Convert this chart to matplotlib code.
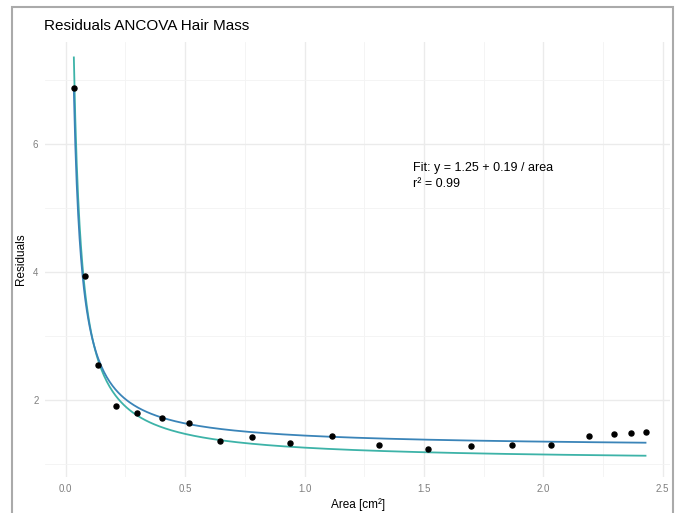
import matplotlib.pyplot as plt
import numpy as np
from matplotlib.patches import Rectangle
from matplotlib.ticker import MultipleLocator

plt.rcParams['font.family'] = ['Liberation Sans', 'DejaVu Sans']

# residuals
area = [0.035, 0.081, 0.135, 0.209, 0.300, 0.404, 0.518, 0.644, 0.781, 0.938,
        1.116, 1.314, 1.516, 1.697, 1.869, 2.033, 2.191, 2.298, 2.369, 2.428]
residuals = [6.88, 3.94, 2.55, 1.90, 1.80, 1.71, 1.63, 1.36, 1.42, 1.32,
             1.43, 1.29, 1.23, 1.28, 1.30, 1.30, 1.43, 1.47, 1.48, 1.50]

# y = a + b / area
fit_coef = [1.25, 0.19]
alt_coef = [1.036, 0.215]

fig = plt.figure(figsize=(6.78, 5.13), dpi=100)
ax = fig.add_axes([0.067, 0.070, 0.921, 0.848])

xs = np.linspace(0.034, max(area), 400)
ax.plot(xs, alt_coef[0] + alt_coef[1] / xs, color='#3db3a8', lw=1.3, zorder=3)
ax.plot(xs, fit_coef[0] + fit_coef[1] / xs, color='#3a84b8', lw=1.3, zorder=3)
ax.scatter(area, residuals, s=13, color='black', zorder=4)

ax.text(1.455, 5.63, 'Fit: y = 1.25 + 0.19 / area', fontsize=9, va='center')
ax.text(1.455, 5.38, 'r² = 0.99', fontsize=9, va='center')

ax.set_xlim(-0.085, 2.53)
ax.set_ylim(0.79, 7.6)
ax.xaxis.set_minor_locator(MultipleLocator(0.25))
ax.yaxis.set_major_locator(MultipleLocator(2))
ax.yaxis.set_minor_locator(MultipleLocator(1))
ax.set_xticks([0, 0.5, 1.0, 1.5, 2.0, 2.5])
ax.set_xticklabels(['0.0', '0.5', '1.0', '1.5', '2.0', '2.5'])
ax.grid(which='major', color='#ebebeb', lw=1.0, zorder=0)
ax.grid(which='minor', color='#f3f3f3', lw=0.6, zorder=0)
ax.set_axisbelow(True)
for s in ax.spines.values():
    s.set_visible(False)
ax.tick_params(which='both', length=0, labelsize=7, labelcolor='#7f7f7f', pad=5)

ax.set_xlabel('Area [cm²]', fontsize=8.5, labelpad=3)
ax.set_ylabel('Residuals', fontsize=8.5, labelpad=4)
ax.set_title('Residuals ANCOVA Hair Mass', fontsize=11, loc='left', x=-0.003, pad=9)

fig.patches.append(Rectangle((12 / 678, -0.02), 661 / 678, 1 - 7 / 513 + 0.02,
                             transform=fig.transFigure, fill=False,
                             edgecolor='#aaaaaa', lw=1.5))

plt.savefig('out.png', dpi=100)
